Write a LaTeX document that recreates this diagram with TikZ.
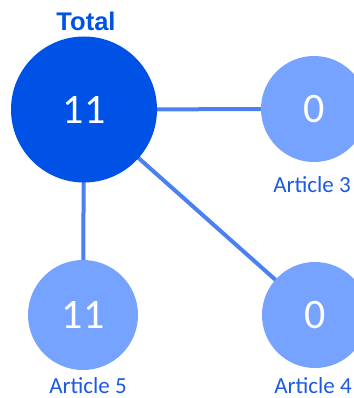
\documentclass[tikz,border=0pt]{standalone}
\usepackage{fontspec}
\usetikzlibrary{backgrounds}
\setmainfont{Carlito}
\newfontfamily\totalfont{Liberation Sans}
\definecolor{totalblue}{RGB}{0,82,230}
\definecolor{lightblue}{RGB}{118,163,255}
\definecolor{edgeblue}{RGB}{74,128,240}
\definecolor{labelblue}{RGB}{28,90,228}
\begin{document}
\begin{tikzpicture}[x=1pt,y=-1pt,
  bignode/.style={circle,fill=totalblue,inner sep=0pt,minimum size=146pt,text=white,font=\fontsize{42}{42}\selectfont},
  smallnode/.style={circle,fill=lightblue,inner sep=0pt,minimum size=106pt,text=white,font=\fontsize{42}{42}\selectfont},
  artlabel/.style={anchor=base,text=labelblue,inner sep=0pt,font=\fontsize{23}{23}\selectfont},
  link/.style={draw=edgeblue,line width=4pt}]
\useasboundingbox (0,0) rectangle (353,398);
\node[smallnode] (a3) at (314,109) {0};
\node[smallnode] (a4) at (315,315) {0};
\node[smallnode,minimum size=110pt] (a5) at (83,315) {11};
\node[bignode] (tot) at (84,109.5) {11};
\begin{pgfonlayer}{background}
\draw[link] (tot.center) -- (a3.center);
\draw[link] (tot.center) -- (a4.center);
\draw[link] (tot.center) -- (a5.center);
\end{pgfonlayer}
\node[anchor=base,text=totalblue,inner sep=0pt,font=\totalfont\bfseries\fontsize{25.5}{25.5}\selectfont] (totlab) at (86,31) {Total};
\node[artlabel] (l3) at (312,192) {Article 3};
\node[artlabel] (l4) at (313,393) {Article 4};
\node[artlabel] (l5) at (88,393) {Article 5};
\end{tikzpicture}
\end{document}
